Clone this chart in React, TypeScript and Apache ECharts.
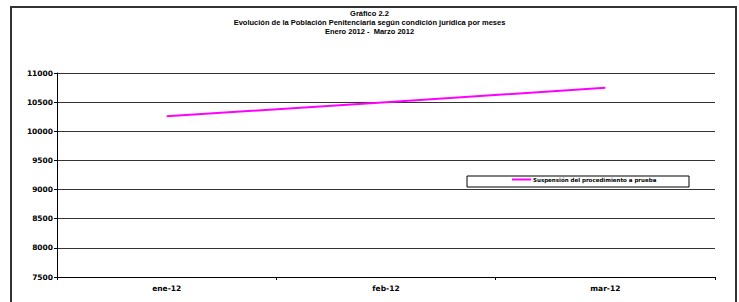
import React, { useEffect, useRef } from "react";
import * as echarts from "echarts";

const categories = ["ene-12", "feb-12", "mar-12"];
const seriesName = "Suspensión del procedimiento a prueba";
const values = [10259, 10498, 10745];
const titleLines = [
  "Gráfico 2.2",
  "Evolución de la Población Penitenciaria según condición jurídica por meses",
  "Enero 2012 -  Marzo 2012",
];

export default function App() {
  const ref = useRef<HTMLDivElement>(null);
  useEffect(() => {
    if (!ref.current) return;
    const chart = echarts.init(ref.current, undefined, { renderer: "svg" });
    chart.setOption({
      animation: false,
      backgroundColor: "#ffffff",
      title: {
        text: titleLines.join("\n"),
        left: "center",
        top: 4,
        textStyle: {
          fontFamily: "Liberation Sans",
          fontWeight: "bold",
          fontSize: 7.5,
          lineHeight: 9,
          color: "#000",
          align: "center",
        },
      },
      graphic: [
        {
          type: "rect",
          shape: { x: 11, y: 7, width: 725, height: 310 },
          style: { fill: "none", stroke: "#333", lineWidth: 2 },
          z: 0,
        },
        {
          type: "rect",
          shape: { x: 467, y: 176, width: 222, height: 11 },
          style: { fill: "#fff", stroke: "#000", lineWidth: 1 },
          z: 5,
        },
      ],
      legend: {
        left: 512,
        top: 176.5,
        padding: 0,
        itemWidth: 19,
        itemHeight: 6,
        itemGap: 2,
        z: 10,
        icon: "path://M0,0 L19,0 L19,2 L0,2 Z",
        textStyle: {
          fontFamily: "DejaVu Sans",
          fontWeight: "bold",
          fontSize: 5.5,
          color: "#000",
          padding: [0, 0, 0, -3],
        },
        data: [seriesName],
      },
      grid: { left: 57, right: 24, top: 73, bottom: 25 },
      xAxis: {
        type: "category",
        data: categories,
        boundaryGap: true,
        axisLine: { show: true, lineStyle: { color: "#000", width: 1 } },
        axisTick: { show: true, length: 3, lineStyle: { color: "#000" } },
        axisLabel: {
          margin: 7,
          fontFamily: "DejaVu Sans",
          fontWeight: "bold",
          fontSize: 7.5,
          color: "#000",
        },
        splitLine: { show: false },
      },
      yAxis: {
        type: "value",
        min: 7500,
        max: 11000,
        interval: 500,
        axisLine: { show: true, lineStyle: { color: "#000", width: 1 } },
        axisTick: { show: true, length: 3, lineStyle: { color: "#000" } },
        axisLabel: {
          margin: 4,
          fontFamily: "DejaVu Sans",
          fontWeight: "bold",
          fontSize: 7.5,
          color: "#000",
          formatter: (v: number) => String(v),
        },
        splitLine: { show: true, lineStyle: { color: "#333", width: 1 } },
      },
      series: [
        {
          name: seriesName,
          type: "line",
          data: values,
          showSymbol: false,
          symbol: "none",
          lineStyle: { color: "#ff00ff", width: 2 },
          itemStyle: { color: "#ff00ff" },
        },
      ],
    });
    return () => chart.dispose();
  }, []);
  return (
    <div
      ref={ref}
      style={{ position: "fixed", left: 0, top: 0, width: 739, height: 302 }}
    />
  );
}
